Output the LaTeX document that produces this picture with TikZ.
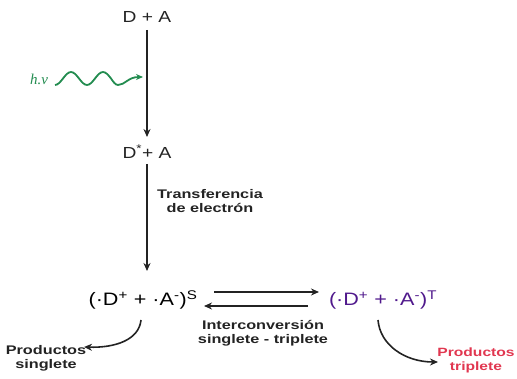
\documentclass[tikz,border=0pt]{standalone}
\usepackage{fontspec}
\setmainfont{Liberation Sans}[FakeStretch=1.2]
\newfontfamily\labelfont{Liberation Sans}[FakeStretch=1.3]
\newfontfamily\hvfont{Liberation Serif}
\usetikzlibrary{arrows.meta}
\definecolor{wavegreen}{RGB}{35,140,80}
\definecolor{tripurple}{RGB}{80,25,140}
\definecolor{prodred}{RGB}{225,55,80}
\definecolor{ink}{RGB}{35,35,35}
\begin{document}
\begin{tikzpicture}[x=1pt,y=-1pt,
  main/.style={inner sep=0pt,text=ink,font=\fontsize{16}{18}\selectfont},
  big/.style={inner sep=0pt,font=\fontsize{18}{20}\selectfont},
  lbl/.style={inner sep=0pt,align=center,text=ink,font=\labelfont\bfseries\fontsize{12.5}{14}\selectfont},
  arr/.style={draw=ink,line width=1.9pt,-{Stealth[length=8pt,width=7pt]}},
]
\useasboundingbox (0,0) rectangle (517,379);
\node[main] (DA) at (147,17) {D + A};
\node[main] (DsA) at (147,152) {D\textsuperscript{*}+ A};
\node[big] (RS) at (143,300) {(·D\textsuperscript{+} + ·A\textsuperscript{-})\textsuperscript{S}};
\node[big,text=tripurple] (RT) at (383,300) {(·D\textsuperscript{+} + ·A\textsuperscript{-})\textsuperscript{T}};
\node[lbl] (TE) at (210,201) {Transferencia\\de electrón};
\node[lbl] (IC) at (263,333) {Interconversión\\singlete - triplete};
\node[lbl] (PS) at (46,358) {Productos\\singlete};
\node[lbl,text=prodred,font=\labelfont\bfseries\fontsize{12}{14}\selectfont] (PT) at (476,360) {Productos\\triplete};
\node[inner sep=0pt,text=wavegreen,font=\hvfont\itshape\fontsize{15}{17}\selectfont] (hv) at (39,79) {h.v};

\coordinate (a1s) at (147,30);
\coordinate (a1e) at (147,137);
\coordinate (a2s) at (147,164);
\coordinate (a2e) at (147,271);
\draw[arr] (a1s) -- (a1e);
\draw[arr] (a2s) -- (a2e);

\coordinate (ws) at (55,85);
\coordinate (we) at (143,77);
\draw[wavegreen,line width=1.8pt,-{Stealth[length=7pt,width=6pt]}]
  (ws) cos (63,78.5) sin (71,72) cos (79,78.5) sin (87,85) cos (95,78.5) sin (103,72) cos (111,78.5) sin (118,85)
  .. controls (125,85) and (128,77) .. (we);

\coordinate (eqTs) at (214,292);
\coordinate (eqTe) at (319,292);
\coordinate (eqBs) at (308,306);
\coordinate (eqBe) at (204,306);
\draw[arr] (eqTs) -- (eqTe);
\draw[arr] (eqBs) -- (eqBe);

\coordinate (cls) at (141,320);
\coordinate (cle) at (84,347);
\draw[arr,line width=1.6pt] (cls) .. controls (139,340) and (115,348) .. (cle);
\coordinate (crs) at (378,320);
\coordinate (cre) at (438,362);
\draw[arr,line width=1.6pt] (crs) .. controls (380,345) and (405,362) .. (cre);
\end{tikzpicture}
\end{document}
